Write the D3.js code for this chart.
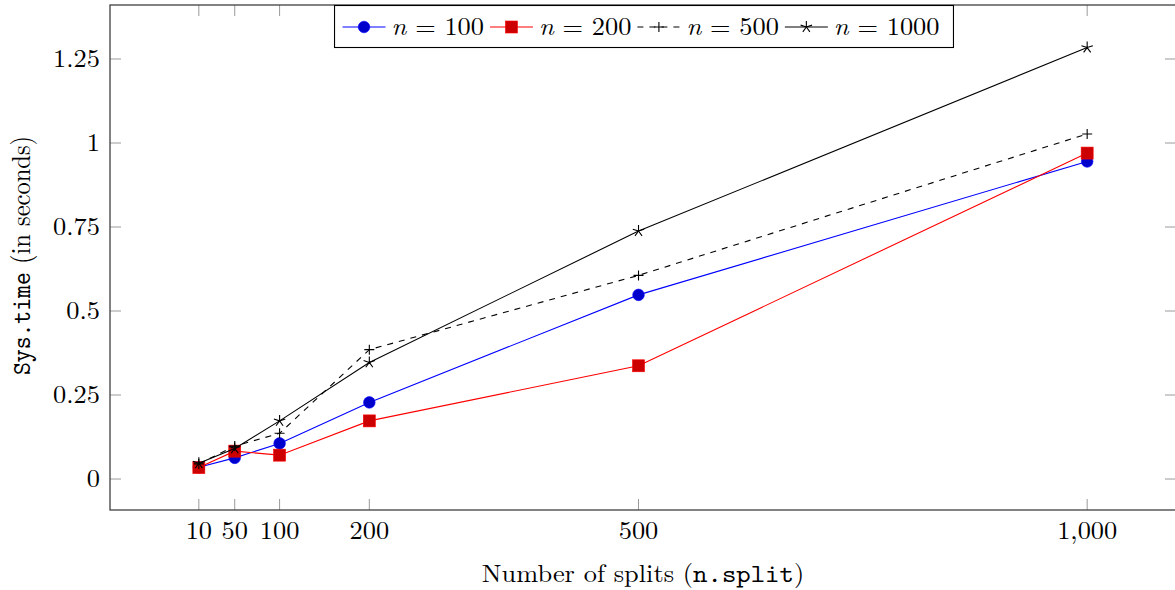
<!DOCTYPE html>
<html><head><meta charset="utf-8">
<script src="https://cdn.jsdelivr.net/npm/d3@7"></script>
<style>
html,body{margin:0;padding:0;background:#fff;}
text{font-family:"Latin Modern Roman","Liberation Serif",serif;fill:#000;}
.mono{font-family:"Latin Modern Mono","Liberation Mono",monospace;}
</style></head><body>
<svg id="chart" width="1175" height="590"></svg>
<script>
const splits = [10, 50, 100, 200, 500, 1000];
const xTicks = [10, 50, 100, 200, 500, 1000];
const yTicks = [0, 0.25, 0.5, 0.75, 1, 1.25];
const seriesNames = ["100", "200", "500", "1000"];
const n100 = [0.035, 0.063, 0.106, 0.228, 0.548, 0.945];
const n200 = [0.034, 0.083, 0.071, 0.173, 0.337, 0.970];
const n500 = [0.045, 0.098, 0.136, 0.385, 0.606, 1.027];
const n1000 = [0.047, 0.091, 0.173, 0.347, 0.738, 1.284];

const svg = d3.select("#chart");
const L = 110, R = 1176, T = 5, B = 510;
const x = d3.scaleLinear().domain([-89, 1099]).range([L, R]);
const y = d3.scaleLinear().domain([-0.0922, 1.4107]).range([B, T]);
const FS = 25, SX = 1.055;

function place(t, px, py) { return t.attr("transform", `translate(${px},${py}) scale(${SX},1)`); }

const series = [
  {name: seriesNames[0], vals: n100, color: "#0000ff", mcolor: "#0000cc", marker: "circle", dash: null},
  {name: seriesNames[1], vals: n200, color: "#ff0000", mcolor: "#cc0000", marker: "square", dash: null},
  {name: seriesNames[2], vals: n500, color: "#000", mcolor: "#000", marker: "plus", dash: "6,6"},
  {name: seriesNames[3], vals: n1000, color: "#000", mcolor: "#000", marker: "star", dash: null}
];

// ticks
const tickCol = "#808080";
const g = svg.append("g");
xTicks.forEach(v => {
  g.append("line").attr("x1", x(v)).attr("x2", x(v)).attr("y1", B).attr("y2", B - 11).attr("stroke", tickCol).attr("stroke-width", 0.8);
  g.append("line").attr("x1", x(v)).attr("x2", x(v)).attr("y1", T).attr("y2", T + 11).attr("stroke", tickCol).attr("stroke-width", 0.8);
  place(g.append("text"), x(v), 539).attr("text-anchor", "middle").attr("font-size", FS)
    .text(d3.format(",")(v));
});
yTicks.forEach(v => {
  g.append("line").attr("x1", L).attr("x2", L + 11).attr("y1", y(v)).attr("y2", y(v)).attr("stroke", tickCol).attr("stroke-width", 0.8);
  g.append("line").attr("x1", R - 11).attr("x2", R).attr("y1", y(v)).attr("y2", y(v)).attr("stroke", tickCol).attr("stroke-width", 0.8);
  place(g.append("text"), 100, y(v) + 8).attr("text-anchor", "end").attr("font-size", FS)
    .text(String(v));
});

const line = d3.line().x((d, i) => x(splits[i])).y(d => y(d));

function drawMarker(sel, type, cx, cy, col) {
  if (type === "circle") {
    sel.append("circle").attr("cx", cx).attr("cy", cy).attr("r", 5.8).attr("fill", col).attr("stroke", "#0000ff").attr("stroke-width", 0.6);
  } else if (type === "square") {
    sel.append("rect").attr("x", cx - 6).attr("y", cy - 6).attr("width", 12).attr("height", 12).attr("fill", col).attr("stroke", "#ff0000").attr("stroke-width", 0.6);
  } else if (type === "plus") {
    sel.append("path").attr("d", `M${cx-5},${cy}H${cx+5}M${cx},${cy-5}V${cy+5}`).attr("stroke", col).attr("stroke-width", 1.1).attr("fill", "none");
  } else if (type === "star") {
    let d = "";
    for (let k = 0; k < 5; k++) {
      const a = -Math.PI / 2 + k * 2 * Math.PI / 5;
      d += `M${cx},${cy}L${cx + 6 * Math.cos(a)},${cy + 6 * Math.sin(a)}`;
    }
    sel.append("path").attr("d", d).attr("stroke", col).attr("stroke-width", 1.1).attr("fill", "none");
  }
}

const plot = svg.append("g");
series.forEach(s => {
  plot.append("path").datum(s.vals).attr("d", line).attr("fill", "none")
    .attr("stroke", s.color).attr("stroke-width", 1.1).attr("stroke-dasharray", s.dash);
  s.vals.forEach((v, i) => drawMarker(plot, s.marker, x(splits[i]), y(v), s.mcolor));
});

// frame
svg.append("rect").attr("x", L).attr("y", T).attr("width", R - L).attr("height", B - T)
  .attr("fill", "none").attr("stroke", "#404040").attr("stroke-width", 1.3);

// axis labels
const xl = place(svg.append("text"), 643, 582).attr("text-anchor", "middle").attr("font-size", FS);
xl.append("tspan").text("Number of splits (");
xl.append("tspan").attr("class", "mono").attr("font-size", FS * 1.04).text("n.split");
xl.append("tspan").text(")");

const yl = svg.append("text").attr("transform", `translate(30,${(T + B) / 2 - 2}) rotate(-90) scale(0.98,${SX})`).attr("text-anchor", "middle").attr("font-size", FS);
yl.append("tspan").attr("class", "mono").text("Sys.time");
yl.append("tspan").text(" (in seconds)");

// legend
const lg = svg.append("g");
const box = lg.append("rect").attr("fill", "#fff").attr("stroke", "#000").attr("stroke-width", 1.1);
const items = lg.append("g");
let cx = 0;
const ly = 27;
series.forEach(s => {
  items.append("line").attr("x1", cx).attr("x2", cx + 43).attr("y1", ly).attr("y2", ly)
    .attr("stroke", s.color).attr("stroke-width", 1.1).attr("stroke-dasharray", s.dash);
  drawMarker(items, s.marker, cx + 21.5, ly, s.mcolor);
  cx += 49;
  const t = place(items.append("text"), cx, ly + 8).attr("font-size", FS);
  t.append("tspan").attr("font-style", "italic").text("n");
  t.append("tspan").text(" = " + s.name);
  cx += t.node().getComputedTextLength() * SX + 6;
});
const W = cx - 6;
const totalW = W + 8 + 14;
const bx = 643 - totalW / 2 + 1;
items.attr("transform", `translate(${bx + 8},0)`);
box.attr("x", bx).attr("y", 5.5).attr("width", totalW).attr("height", 42);
</script>
</body></html>
